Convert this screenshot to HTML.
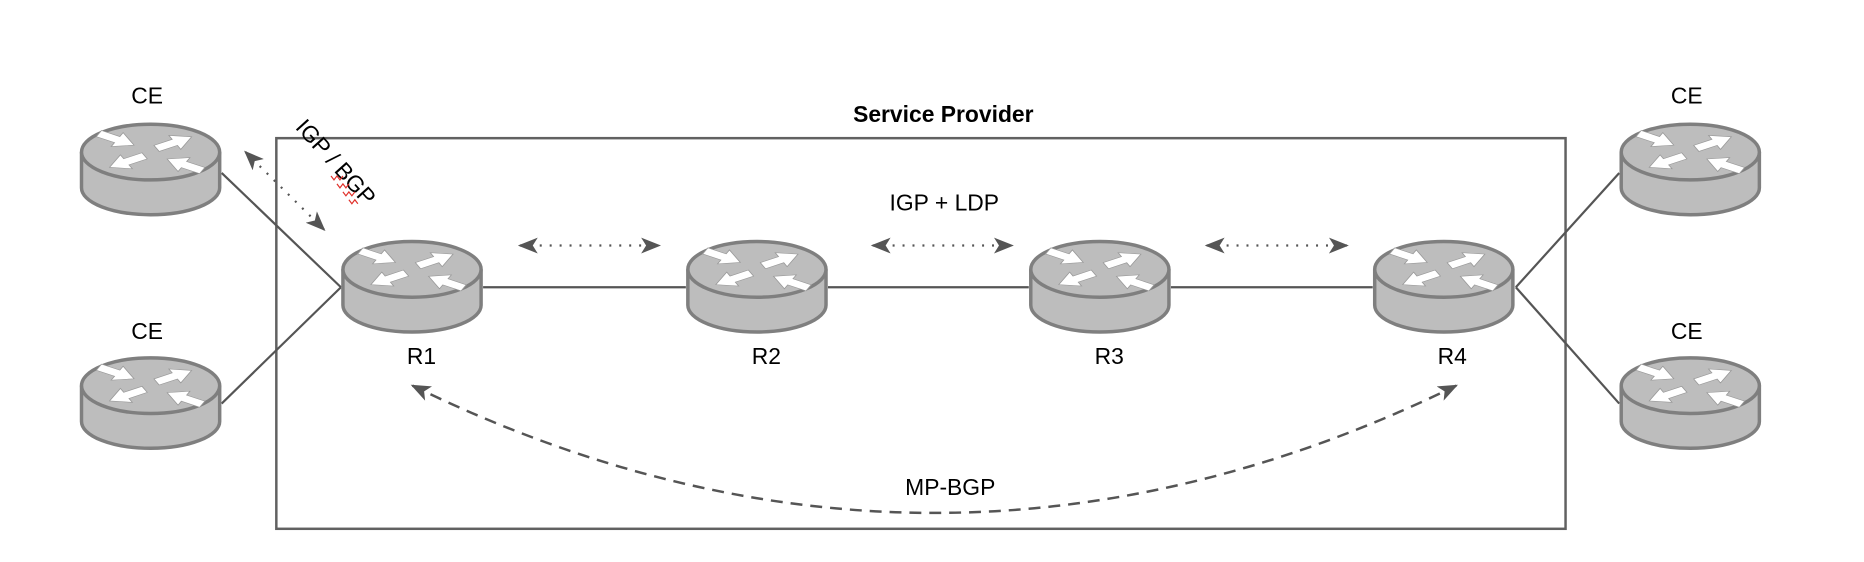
<!DOCTYPE html>
<html><head><meta charset="utf-8"><style>
html,body{margin:0;padding:0;background:#fff;}
svg{display:block;font-family:"Liberation Sans",Arial,sans-serif;}
</style></head><body>
<svg width="1864" height="562" viewBox="0 0 1864 562" xmlns="http://www.w3.org/2000/svg">
<defs>
  <path id="ar" d="M0,-3.5 L13,-3.5 L13,-8 L25,0 L13,8 L13,3.5 L0,3.5Z" fill="#fff" stroke="#999" stroke-width="0.6"/>
  <g id="rt">
    <path d="M2,30 L2,66 A69.5,27 0 0 0 141,66 L141,30" fill="#bdbdbd" stroke="#7f7f7f" stroke-width="3.5"/>
    <ellipse cx="71.5" cy="30" rx="69.5" ry="28" fill="#bdbdbd" stroke="#7f7f7f" stroke-width="3.5"/>
    <g transform="translate(71.5,30) scale(1,0.62)">
      <use href="#ar" transform="translate(-52,-30) rotate(28) scale(1.6)"/>
      <use href="#ar" transform="translate(6,-6) rotate(-28) scale(1.6)"/>
      <use href="#ar" transform="translate(-6,6) rotate(152) scale(1.6)"/>
      <use href="#ar" transform="translate(52,30) rotate(208) scale(1.6)"/>
    </g>
  </g>
  <marker id="ah" viewBox="0 0 20 16" refX="18" refY="8" markerWidth="20" markerHeight="16" markerUnits="userSpaceOnUse" orient="auto-start-reverse">
    <path d="M0,0 L20,8 L0,16 L5,8Z" fill="#555"/>
  </marker>
</defs>
<g transform="scale(0.994)">
<!-- Service provider box -->
<rect x="278" y="139" width="1297" height="393" fill="none" stroke="#616161" stroke-width="2.5"/>
<text x="949" y="123" font-size="23" font-weight="bold" text-anchor="middle">Service Provider</text>

<!-- links -->
<g stroke="#555" stroke-width="2.2" fill="none">
  <line x1="486" y1="289" x2="690" y2="289"/>
  <line x1="833" y1="289" x2="1035" y2="289"/>
  <line x1="1178" y1="289" x2="1381" y2="289"/>
  <line x1="223" y1="174" x2="343" y2="289"/>
  <line x1="223" y1="406" x2="343" y2="289"/>
  <line x1="1525" y1="289" x2="1629" y2="174"/>
  <line x1="1525" y1="289" x2="1629" y2="406"/>
</g>

<!-- dotted arrows -->
<g stroke="#555" stroke-width="2.2" fill="none" stroke-dasharray="2,8" marker-start="url(#ah)" marker-end="url(#ah)">
  <line x1="523" y1="247" x2="663" y2="247"/>
  <line x1="878" y1="247" x2="1018" y2="247"/>
  <line x1="1214" y1="247" x2="1355" y2="247"/>
  <line x1="247" y1="153" x2="326" y2="231"/>
</g>

<!-- MP-BGP curve -->
<path d="M415,388 Q940,644 1465,388" stroke="#555" stroke-width="2.5" fill="none" stroke-dasharray="12,8" marker-start="url(#ah)" marker-end="url(#ah)"/>

<!-- routers -->
<use href="#rt" x="80" y="123"/>
<use href="#rt" x="80" y="358"/>
<use href="#rt" x="343" y="241"/>
<use href="#rt" x="690" y="241"/>
<use href="#rt" x="1035" y="241"/>
<use href="#rt" x="1381" y="241"/>
<use href="#rt" x="1629" y="123"/>
<use href="#rt" x="1629" y="358"/>

<!-- labels -->
<g font-size="23" text-anchor="middle" fill="#000">
  <text x="148" y="104">CE</text>
  <text x="148" y="341">CE</text>
  <text x="1697" y="104">CE</text>
  <text x="1697" y="341">CE</text>
  <text x="424" y="366">R1</text>
  <text x="771" y="366">R2</text>
  <text x="1116" y="366">R3</text>
  <text x="1461" y="366">R4</text>
  <text x="950" y="212">IGP + LDP</text>
  <text x="956" y="498">MP-BGP</text>
  <text transform="translate(338,163) rotate(48)" x="0" y="8">IGP / BGP</text>
</g>
<path d="M333,177 l3,4 l3,-4 l3,4 l3,-4 M339,185 l3,4 l3,-4 l3,4 l3,-4 M345,193 l3,4 l3,-4 l3,4 l3,-4 M351,201 l3,4 l3,-4 l3,4" stroke="#e0302a" stroke-width="1.2" fill="none"/>
</g>
</svg>
</body></html>
